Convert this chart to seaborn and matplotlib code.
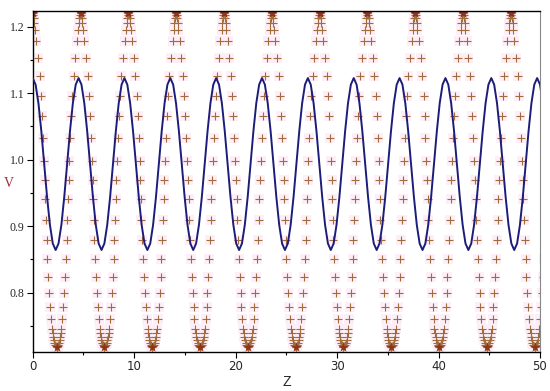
import numpy as np
import matplotlib
matplotlib.use('Agg')
import matplotlib.pyplot as plt
import seaborn as sns
from matplotlib.ticker import MultipleLocator

# blue wave: peak positions and one sampled cycle (offset from the peak, V)
peak_z = [0.0, 4.52, 9.04, 13.56, 18.08, 22.60, 27.12, 31.64, 36.16, 40.68, 45.20, 49.72]
cycle_dz = [0.0, 0.283, 0.565, 0.848, 1.130, 1.413, 1.695, 1.978,
            2.260, 2.543, 2.825, 3.108, 3.390, 3.673, 3.955, 4.238]
cycle_v = [1.1228, 1.1130, 1.0849, 1.0430, 0.9935, 0.9440, 0.9021, 0.8740,
           0.8642, 0.8740, 0.9021, 0.9440, 0.9935, 1.0430, 1.0849, 1.1130]

# '+' points: each V-shaped cluster sits on a bottom vertex
vertex_z = [2.36, 7.07, 11.78, 16.49, 21.21, 25.92, 30.63, 35.34, 40.06, 44.77, 49.48]
# one branch going up from a bottom vertex to the next top vertex (offset in Z, V)
branch_dz = [0.0, 0.09, 0.15, 0.227, 0.30, 0.355, 0.41, 0.463, 0.552, 0.641, 0.729,
             0.818, 0.907, 0.986, 1.064, 1.124, 1.178, 1.252, 1.351, 1.439, 1.538,
             1.666, 1.834, 2.001, 2.139, 2.188, 2.238, 2.30, 2.356]
branch_v = [0.7188, 0.7203, 0.7218, 0.7248, 0.7293, 0.7338, 0.7398, 0.7459, 0.7609,
            0.7790, 0.8000, 0.8241, 0.8511, 0.8797, 0.9098, 0.9414, 0.9699, 0.9980,
            1.0326, 1.0657, 1.0958, 1.1259, 1.1529, 1.1785, 1.1950, 1.2056, 1.2131,
            1.2176, 1.2206]

wave_z = np.concatenate([np.add(p, cycle_dz) for p in peak_z])
wave_v = np.tile(cycle_v, len(peak_z))

pts_z = np.concatenate([np.concatenate([np.subtract(b, branch_dz), np.add(b, branch_dz)])
                        for b in vertex_z])
pts_v = np.tile(np.concatenate([branch_v, branch_v]), len(vertex_z))

# the dense clusters where the branches leave the view
star_z = np.concatenate([[b, b - branch_dz[-1], b + branch_dz[-1]] for b in vertex_z])
star_v = np.tile([branch_v[0], branch_v[-1], branch_v[-1]], len(vertex_z))

sns.set_theme(style='ticks')
plt.rcParams['font.family'] = ['Liberation Serif', 'DejaVu Serif']

fig = plt.figure(figsize=(5.5, 3.91), dpi=100)
ax = fig.add_axes([0.0595, 0.1005, 0.9223, 0.8701])

# faint pink halo behind every point
sns.scatterplot(x=pts_z, y=pts_v, marker='s', s=45, color='#fdeef7',
                linewidth=0, ax=ax, zorder=1)
sns.scatterplot(x=pts_z, y=pts_v, marker='+', s=34, color='#a06c3c',
                linewidth=0.8, ax=ax, zorder=2)
sns.scatterplot(x=star_z, y=star_v, marker='*', s=55, color='#8e3418',
                linewidth=0, ax=ax, zorder=2)
sns.lineplot(x=wave_z, y=wave_v, color='#1c1c7a', linewidth=1.4,
             sort=False, estimator=None, ax=ax, zorder=3)

ax.set_xlim(0, 50)
ax.set_ylim(0.7113, 1.2229)

ax.xaxis.set_major_locator(MultipleLocator(10))
ax.xaxis.set_minor_locator(MultipleLocator(5))
ax.yaxis.set_major_locator(MultipleLocator(0.1))
ax.yaxis.set_minor_locator(MultipleLocator(0.05))
ax.yaxis.set_major_formatter(matplotlib.ticker.FormatStrFormatter('%.1f'))

ax.tick_params(axis='both', which='major', length=4, width=0.8, color='black',
               labelsize=8.5, pad=2)
ax.tick_params(axis='both', which='minor', length=2.5, width=0.8, color='black')
for lbl in ax.get_xticklabels():
    lbl.set_family(['Liberation Sans Narrow', 'DejaVu Sans'])
    lbl.set_fontsize(8.5)

for side in ['left', 'bottom', 'top']:
    ax.spines[side].set_color('black')
    ax.spines[side].set_linewidth(1.0)
ax.spines['right'].set_color('#888888')
ax.spines['right'].set_linewidth(0.8)

ax.set_xlabel('Z', fontsize=10, family=['Liberation Sans', 'DejaVu Sans'])
ax.set_ylabel('V', fontsize=10, rotation=0, color='#a0303a')
ax.xaxis.set_label_coords(0.5, -0.068)
ax.yaxis.set_label_coords(-0.047, 0.475)

fig.savefig('out.png', dpi=100, facecolor='white')
